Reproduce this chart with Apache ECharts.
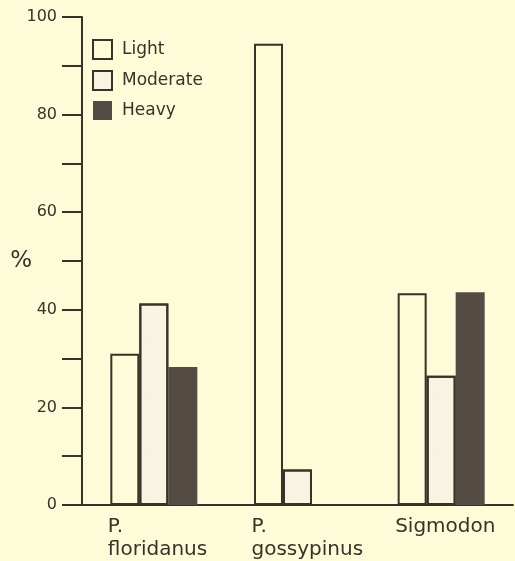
<!DOCTYPE html>
<html>
<head>
<meta charset="utf-8">
<script src="https://cdn.jsdelivr.net/npm/echarts@6/dist/echarts.min.js"></script>
<style>
html,body{margin:0;padding:0;background:#fdfbd8;}
#chart{width:515px;height:561px;}
</style>
</head>
<body>
<div id="chart"></div>
<script>
const categories = ['P.\nfloridanus', 'P.\ngossypinus', 'Sigmodon'];
const lightValues = [31, 94.5, 43.4];
const moderateValues = [41.3, 7.3, 26.5];
const heavyValues = [28.3, 0, 43.6];
const seriesNames = ['Light', 'Moderate', 'Heavy'];

const ink = '#3a3129';
const bg = '#fdfbd8';
const chart = echarts.init(document.getElementById('chart'), null, {renderer: 'canvas'});
chart.setOption({
  backgroundColor: bg,
  animation: false,
  textStyle: {fontFamily: 'DejaVu Sans', color: ink},
  legend: {
    orient: 'vertical', left: 92, top: 39, padding: 0,
    icon: 'rect',
    itemWidth: 19, itemHeight: 19, itemGap: 10,
    textStyle: {fontSize: 17, color: ink, padding: [4, 0, 0, 5]},
    data: seriesNames
  },
  grid: {left: 82, right: 2, top: 17, bottom: 56, containLabel: false, outerBoundsMode: 'none'},
  xAxis: {
    type: 'category', data: categories,
    axisLine: {lineStyle: {color: ink, width: 2}},
    axisTick: {show: false},
    axisLabel: {
      margin: 10, align: 'center', color: ink,
      formatter: v => v.split('\n').map(s => '{a|' + s + '}').join('\n'),
      rich: {a: {width: 92, align: 'left', fontSize: 20, lineHeight: 23, color: ink, fontFamily: 'DejaVu Sans'}}
    }
  },
  yAxis: {
    type: 'value', min: 0, max: 100, interval: 10,
    name: '%', nameLocation: 'middle', nameRotate: 0, nameGap: 50, nameMoveOverlap: false,
    nameTextStyle: {fontSize: 23, color: ink},
    axisLine: {show: true, lineStyle: {color: ink, width: 2}},
    axisTick: {show: true, length: 20, lineStyle: {color: ink, width: 2}},
    axisLabel: {margin: 25, fontSize: 16, color: ink, formatter: v => (v % 20 === 0 ? String(v) : '')},
    splitLine: {show: false}
  },
  series: [
    {name: seriesNames[0], type: 'bar', data: lightValues, barWidth: 29, barGap: '0%',
     itemStyle: {color: bg, borderColor: ink, borderWidth: 2}},
    {name: seriesNames[1], type: 'bar', data: moderateValues, barWidth: 29, barGap: '0%',
     itemStyle: {color: '#f7f5e2', borderColor: ink, borderWidth: 2,
       decal: {symbol: 'circle', symbolSize: 0.6, color: 'rgba(90,80,70,0.25)', dashArrayX: [[1, 5]], dashArrayY: [1, 6], rotation: 0}}},
    {name: seriesNames[2], type: 'bar', data: heavyValues, barWidth: 29, barGap: '0%',
     itemStyle: {color: '#554b45', borderWidth: 0}}
  ]
});
</script>
</body>
</html>
